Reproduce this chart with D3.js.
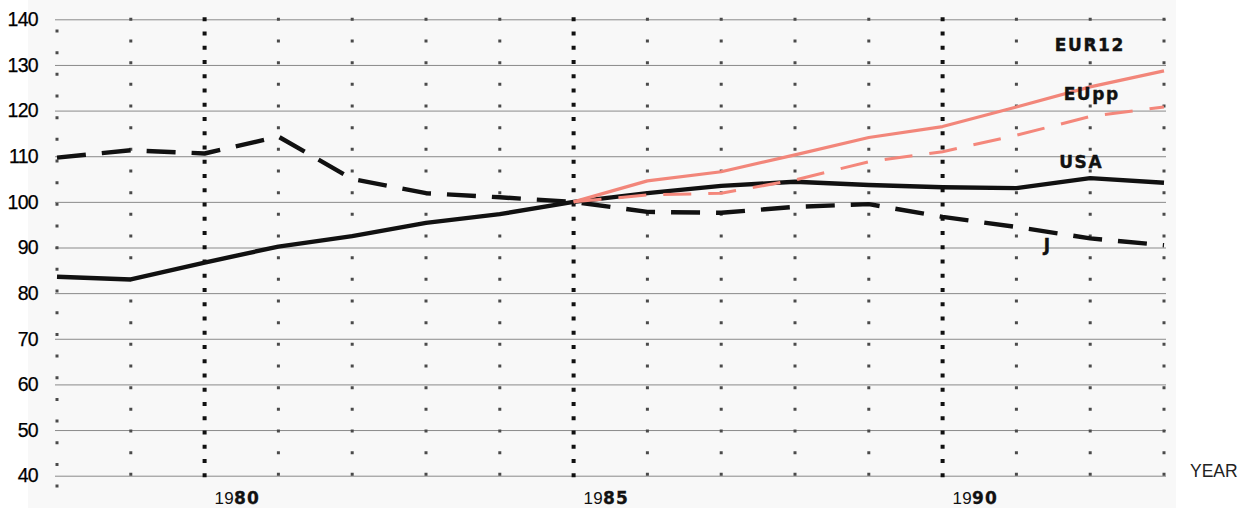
<!DOCTYPE html>
<html>
<head>
<meta charset="utf-8">
<script src="https://cdn.jsdelivr.net/npm/d3@7"></script>
<style>
  html, body { margin: 0; padding: 0; background: #ffffff; }
  svg { display: block; }
</style>
</head>
<body>
<svg id="chart" width="1248" height="512"></svg>
<script>
// ---- data ----
const years = [1978, 1979, 1980, 1981, 1982, 1983, 1984, 1985, 1986, 1987, 1988, 1989, 1990, 1991, 1992, 1993];
const usa   = [83.6, 83.0, 86.7, 90.2, 92.5, 95.4, 97.3, 100, 101.9, 103.5, 104.4, 103.7, 103.2, 103.0, 105.2, 104.2];
const japan = [109.7, 111.3, 110.6, 114.3, 105.0, 101.9, 101.0, 100, 97.8, 97.6, 98.9, 99.5, 96.7, 94.5, 92.0, 90.5];
const euYears = [1985, 1986, 1987, 1988, 1989, 1990, 1991, 1992, 1993];
const eur12 = [100, 104.6, 106.6, 110.3, 114.1, 116.5, 120.8, 125.2, 128.7];
const eupp  = [100, 101.5, 101.9, 104.8, 108.8, 111.0, 114.6, 118.7, 120.8];
const yTicks = [40, 50, 60, 70, 80, 90, 100, 110, 120, 130, 140];
const xLabelYears = [1980, 1985, 1990];
const seriesLabels = [
  { text: "EUR12", year: 1991.52, value: 133.1 },
  { text: "EUpp",  year: 1991.64, value: 122.4 },
  { text: "USA",   year: 1991.58, value: 107.4 },
  { text: "J",     year: 1991.37, value: 89.2 }
];

// ---- layout ----
const svg = d3.select("#chart");
const x = d3.scaleLinear().domain([1978, 1993]).range([57, 1164]);
const y = d3.scaleLinear().domain([40, 140]).range([475.7, 19.3]);
const gridLeft = 55, gridRight = 1166;

// background
svg.append("rect").attr("x", 0).attr("y", 0).attr("width", 1248).attr("height", 512).attr("fill", "#ffffff");
svg.append("rect").attr("x", 28).attr("y", 0).attr("width", 1148).attr("height", 508).attr("fill", "#f8f8f8");

// horizontal gridlines + y labels via axis
const yAxis = d3.axisLeft(y).tickValues(yTicks).tickSize(-(gridRight - gridLeft)).tickPadding(17).tickFormat(d3.format("d"));
const gy = svg.append("g").attr("transform", `translate(${gridLeft},0)`).call(yAxis);
gy.select(".domain").remove();
gy.selectAll(".tick line").attr("stroke", "#8a8a8a").attr("stroke-width", 1);
gy.selectAll(".tick text")
  .attr("font-family", "'Liberation Sans', Arial, sans-serif")
  .attr("font-size", 19.5)
  .attr("letter-spacing", -0.7)
  .attr("fill", "#000")
  .attr("stroke", "#000").attr("stroke-width", 0.25);

// dotted vertical year lines
const vg = svg.append("g");
years.forEach(yr => {
  const major = xLabelYears.includes(yr);
  const first = yr === years[0];
  const top = first ? y(140) + 11.7 : y(140);
  const bottom = first ? y(40) + 12 : y(40) + 2;
  if (major) {
    vg.append("line")
      .attr("x1", x(yr)).attr("x2", x(yr))
      .attr("y1", top - 2).attr("y2", bottom + 2)
      .attr("stroke", "#111").attr("stroke-width", 4)
      .attr("stroke-dasharray", "4 10.25");
  } else {
    vg.append("line")
      .attr("x1", x(yr)).attr("x2", x(yr))
      .attr("y1", top - 1.5).attr("y2", bottom)
      .attr("stroke", "#4a4a4a").attr("stroke-width", 3)
      .attr("stroke-dasharray", "3 18.67");
  }
});

// lines
const line = d3.line().x(d => x(d[0])).y(d => y(d[1]));
const zip = (a, b) => a.map((v, i) => [v, b[i]]);

svg.append("path").datum(zip(years, japan)).attr("d", line)
  .attr("fill", "none").attr("stroke", "#111").attr("stroke-width", 4.4)
  .attr("stroke-dasharray", "29 16").attr("stroke-linejoin", "round");

svg.append("path").datum(zip(years, usa)).attr("d", line)
  .attr("fill", "none").attr("stroke", "#111").attr("stroke-width", 4.4)
  .attr("stroke-linejoin", "round");

svg.append("path").datum(zip(euYears, eupp)).attr("d", line)
  .attr("fill", "none").attr("stroke", "#f4877b").attr("stroke-width", 3)
  .attr("stroke-dasharray", "28 17");

svg.append("path").datum(zip(euYears, eur12)).attr("d", line)
  .attr("fill", "none").attr("stroke", "#f2867a").attr("stroke-width", 3.2)
  .attr("stroke-linejoin", "round");

// series labels
svg.append("g").selectAll("text").data(seriesLabels).join("text")
  .attr("x", d => x(d.year)).attr("y", d => y(d.value))
  .attr("font-family", "'DejaVu Sans', sans-serif")
  .attr("font-weight", "bold")
  .attr("font-size", 17)
  .attr("letter-spacing", 1.6)
  .attr("fill", "#111")
  .attr("stroke", "#111").attr("stroke-width", 0.4)
  .text(d => d.text);

// x labels: "19" regular + "80" bold
const xl = svg.append("g").selectAll("text").data(xLabelYears).join("text")
  .attr("x", d => x(d) + 10).attr("y", 504)
  .attr("fill", "#111");
xl.append("tspan")
  .attr("font-family", "'Liberation Sans', Arial, sans-serif")
  .attr("font-size", 17)
  .attr("letter-spacing", 0.2)
  .text(d => String(d).slice(0, 2));
xl.append("tspan")
  .attr("font-family", "'DejaVu Sans', sans-serif")
  .attr("font-weight", "bold")
  .attr("font-size", 17)
  .attr("letter-spacing", 1.3)
  .attr("stroke", "#111").attr("stroke-width", 0.3)
  .text(d => String(d).slice(2));

// axis title
svg.append("text").attr("x", 1190).attr("y", 477)
  .attr("font-family", "'Liberation Sans', Arial, sans-serif")
  .attr("font-size", 17.5)
  .attr("fill", "#222")
  .text("YEAR");
</script>
</body>
</html>
